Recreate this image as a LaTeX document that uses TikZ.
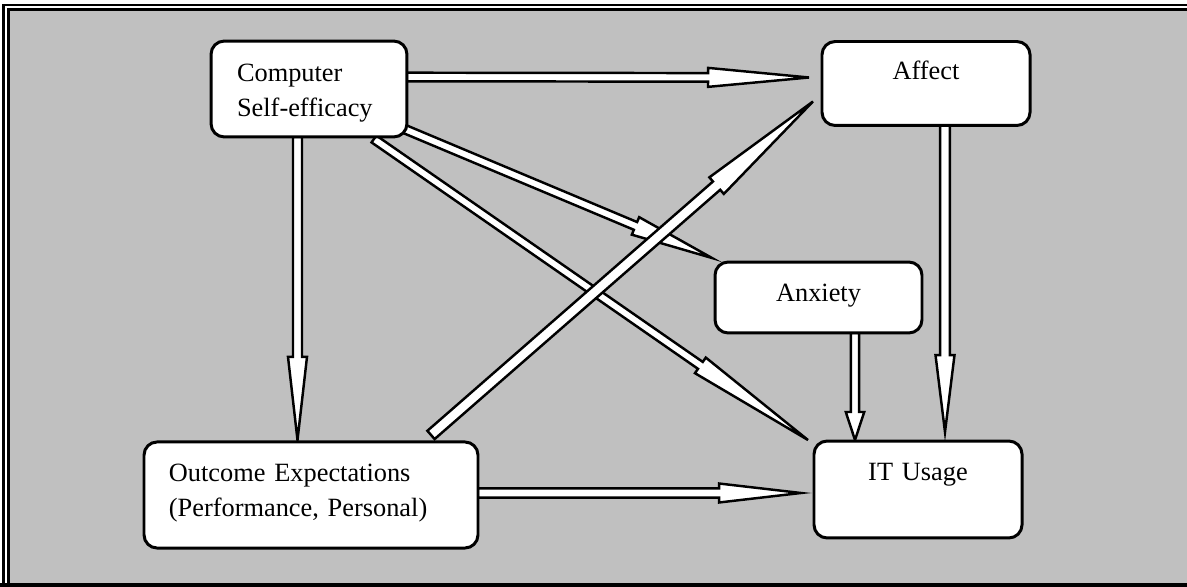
\documentclass[tikz,border=0pt]{standalone}
\usepackage{fontspec}
\setmainfont{Liberation Serif}
\usepackage{xcolor}
\usetikzlibrary{calc,backgrounds}

\definecolor{panelgray}{RGB}{192,192,192}
\newcommand{\pxu}{0.569pt}
% hollow block arrow: start, tip, head length, shaft half width, head half width (px)
\newcommand{\blockarrow}[5]{%
  \draw[barrow] let \p1=(#1), \p2=(#2), \n1={atan2(\y2-\y1,\x2-\x1)} in
    ($(\p1)+(\n1+90:#4*\pxu)$) -- ($(\p2)+(\n1+180:#3*\pxu)+(\n1+90:#4*\pxu)$)
    -- ($(\p2)+(\n1+180:#3*\pxu)+(\n1+90:#5*\pxu)$) -- (\p2)
    -- ($(\p2)+(\n1+180:#3*\pxu)+(\n1-90:#5*\pxu)$)
    -- ($(\p2)+(\n1+180:#3*\pxu)+(\n1-90:#4*\pxu)$)
    -- ($(\p1)+(\n1-90:#4*\pxu)$) -- cycle;}

\begin{document}
\begin{tikzpicture}[
  x=0.02cm, y=-0.02cm,
  box/.style={draw, line width=1.7pt, fill=white, rounded corners=7.5pt,
              inner sep=0pt, outer sep=0pt, font=\fontsize{15}{19.85}\selectfont},
  barrow/.style={draw, fill=white, line width=1.4pt},
]
\useasboundingbox (0,0) rectangle (1187,587);

% Boxes
\node[box, text width=81.9pt, inner xsep=14.8pt, align=left,
      text height=23.3pt, text depth=31.3pt] (selfeff) at (309,89) {Computer\\Self-efficacy};
\node[box, text width=118.4pt, align=center,
      text height=21.6pt, text depth=26.2pt] (affect) at (926,83.5) {Affect};
\node[box, text width=117.8pt, align=center,
      text height=22.2pt, text depth=18.2pt] (anxiety) at (818.5,297.5) {Anxiety};
\node[box, text width=161.7pt, inner xsep=14.2pt, align=left,
      text height=22.8pt, text depth=37.6pt] (outcome) at (311,495) {Outcome Expectations\\(Performance, Personal)};
\node[box, text width=118.4pt, align=center,
      text height=22.2pt, text depth=33pt] (usage) at (918,489.5) {IT Usage};

\begin{scope}[on background layer]
% Frame (open at the right, where the page cuts it)
\fill[white] (0,0) rectangle (1187,587);
\fill[panelgray] (9,10) rectangle (1187,585);
\draw[line width=1.3pt] (1187,5.2) -- (3.5,5.2) -- (3.5,587);
\draw[line width=1.5pt] (1187,9.8) -- (8.8,9.8) -- (8.8,587);
\draw[line width=2.3pt] (0,585) -- (1187,585);

% Arrows
\blockarrow{$(selfeff.east)+(0,-12)$}{$(affect.west)+(-13,-6)$}{101}{4.3}{9.5}
\blockarrow{$(selfeff.south)+(-11.5,0)$}{$(outcome.north)+(-13.5,-2)$}{83}{4.5}{9.5}
\blockarrow{$(selfeff.south east)+(-5,-9)$}{$(anxiety.north west)+(-3,-4)$}{83}{4.2}{9.5}
\blockarrow{$(selfeff.south east)+(-33,2)$}{$(usage.north west)+(-6,-1)$}{131}{4.2}{9.5}
\blockarrow{$(outcome.east)+(0,-2)$}{$(usage.west)+(-13,3.5)$}{82}{4.6}{9.5}
\blockarrow{$(affect.south)+(19,0)$}{$(usage.north)+(27,-9)$}{77}{4.9}{9.5}
\blockarrow{$(anxiety.south)+(36.5,0)$}{$(usage.north)+(-63,-1)$}{28}{4.2}{9.2}
\blockarrow{$(outcome.north east)+(-47,-7)$}{$(affect.south west)+(-9,-24)$}{128}{5.5}{11}
\end{scope}

\end{tikzpicture}
\end{document}
